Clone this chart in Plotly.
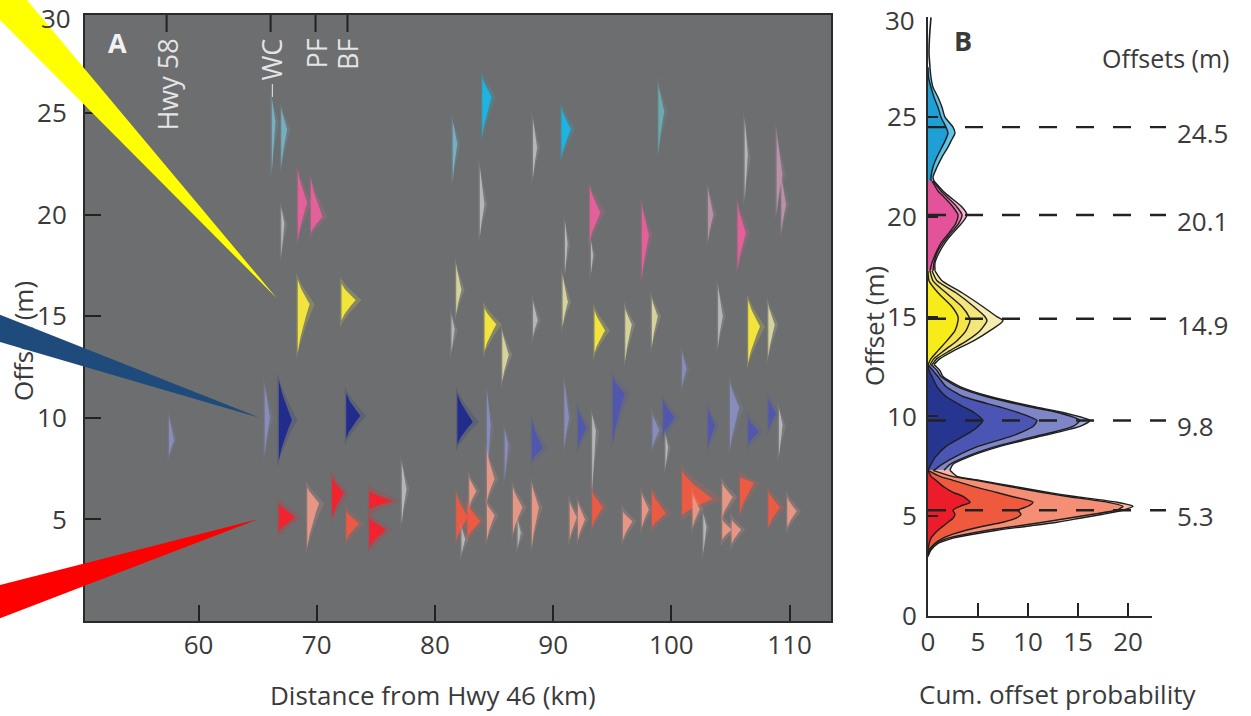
import plotly.graph_objects as go

W, H = 1251, 716
FONT = "Open Sans"
TXT = "#3a3a3a"

# ---------------- Panel A data ----------------
site_names = ["Hwy 58", "WC", "PF", "BF"]
site_km = [57.3, 66.1, 69.9, 72.6]

# individual offset measurements (half-violin pdfs): distance, pdf low / mode / high, relative pdf height
blob_km = [66.2, 67.0, 81.5, 84.0, 90.7, 98.9,
           68.4, 69.5, 67.0, 83.8, 88.3, 93.1, 93.2, 97.5, 91.0, 103.1, 105.6, 108.9, 109.3, 106.2,
           68.4, 72.1, 81.8, 81.4, 84.2, 85.7, 88.3, 90.8, 93.5, 96.1, 98.35, 103.95, 106.5, 108.2,
           57.5, 65.6, 66.8, 72.5, 81.9, 84.4, 85.9, 88.2, 90.95, 92.1, 93.3, 95.05, 98.4, 99.3, 99.5,
           100.9, 103.1, 104.95, 106.5, 108.2, 109.1,
           66.8, 69.2, 71.3, 72.5, 74.45, 74.45, 77.2, 81.8, 82.75, 82.9, 82.25, 84.4, 84.4, 86.6, 87.0,
           88.2, 91.4, 92.1, 93.3, 95.9, 97.5, 98.35, 100.9, 101.8, 102.7, 104.3, 104.3, 105.1, 105.8,
           108.2, 109.8]
blob_lo = [22.0, 22.3, 21.6, 23.8, 22.8, 23.0,
           18.7, 19.1, 17.9, 18.9, 21.8, 18.7, 17.1, 16.8, 17.1, 18.7, 17.3, 20.0, 19.1, 20.7,
           13.2, 14.8, 15.1, 13.2, 13.3, 11.8, 14.0, 14.5, 13.2, 12.8, 13.5, 13.5, 12.7, 13.0,
           8.1, 8.1, 7.9, 9.0, 8.7, 6.9, 6.9, 7.9, 8.5, 8.5, 6.3, 8.7, 8.5, 9.1, 7.5,
           11.5, 8.5, 8.4, 8.7, 9.4, 8.1,
           4.4, 3.6, 5.1, 4.0, 5.5, 3.6, 4.8, 4.0, 4.1, 5.6, 3.3, 5.9, 4.0, 4.3, 3.6,
           3.6, 4.0, 4.0, 4.6, 4.0, 4.6, 4.6, 5.2, 4.6, 3.3, 5.1, 4.0, 3.8, 5.3,
           4.6, 4.6]
blob_peak = [24.5, 24.2, 23.5, 25.8, 24.2, 25.1,
             20.6, 19.9, 19.5, 20.5, 23.3, 20.1, 18.0, 19.0, 18.5, 20.0, 19.1, 22.0, 20.5, 22.8,
             15.6, 15.8, 16.3, 14.3, 14.6, 13.1, 14.8, 15.7, 14.3, 14.6, 15.0, 15.0, 14.5, 14.6,
             8.9, 10.0, 9.9, 10.1, 9.8, 9.5, 8.6, 8.5, 10.0, 9.5, 9.3, 11.2, 9.4, 10.0, 8.5,
             12.4, 9.6, 10.5, 9.3, 10.2, 9.6,
             5.1, 5.8, 6.3, 4.8, 5.9, 4.5, 6.5, 5.1, 4.9, 6.4, 4.0, 7.0, 5.2, 5.6, 4.3,
             5.6, 5.1, 5.0, 5.6, 4.9, 5.5, 5.3, 6.0, 5.5, 4.6, 6.1, 4.5, 4.5, 6.8,
             5.6, 5.4]
blob_hi = [25.8, 25.3, 24.7, 26.8, 25.3, 26.5,
           22.2, 21.8, 20.4, 22.5, 24.8, 21.4, 18.7, 20.6, 19.7, 21.4, 20.6, 24.3, 22.0, 24.8,
           16.8, 16.6, 17.6, 15.1, 15.4, 14.3, 15.8, 17.1, 15.3, 15.4, 15.9, 16.6, 15.8, 15.6,
           10.2, 11.8, 11.9, 11.2, 11.2, 11.5, 9.5, 9.9, 12.0, 10.5, 10.2, 12.0, 10.2, 10.9, 9.2,
           13.3, 10.5, 11.8, 10.0, 11.0, 10.5,
           5.8, 6.6, 7.1, 5.4, 6.4, 5.1, 7.9, 6.3, 5.8, 7.1, 4.6, 8.4, 5.8, 6.6, 5.0,
           6.8, 5.9, 5.9, 6.4, 5.4, 6.3, 6.4, 7.4, 6.3, 5.3, 6.8, 5.0, 5.0, 7.1,
           6.4, 6.1]
blob_height = [0.35, 0.5, 0.4, 0.8, 0.8, 0.5,
               0.8, 1.0, 0.3, 0.4, 0.35, 0.9, 0.2, 0.6, 0.25, 0.45, 0.7, 0.5, 0.4, 0.3,
               1.0, 1.2, 0.45, 0.3, 1.0, 0.55, 0.4, 0.45, 0.9, 0.55, 0.5, 0.4, 1.0, 0.55,
               0.45, 0.45, 1.1, 1.2, 1.3, 0.35, 0.35, 0.9, 0.4, 0.7, 0.35, 1.0, 0.6, 1.0, 0.25,
               0.4, 0.6, 0.8, 0.9, 0.65, 0.35,
               1.4, 1.0, 1.0, 1.1, 2.0, 1.4, 0.4, 1.0, 1.1, 0.6, 0.35, 0.65, 0.65, 0.8, 0.3,
               0.6, 0.6, 0.6, 0.9, 0.8, 0.6, 1.2, 2.6, 0.6, 0.3, 0.9, 0.8, 0.8, 1.2,
               1.0, 0.8]
# quality class of each measurement (group + confidence)
blob_class = ["c2", "c2", "c2", "c1", "c1", "c3",
              "p1", "p1", "w", "w", "w", "p1", "w", "p1", "w", "p2", "p1", "p2", "p2", "w",
              "y1", "y1", "y2", "w", "y1", "y2", "w", "y2", "y1", "y2", "y2", "w", "y1", "y2",
              "b3", "b3", "b1", "b1", "b1", "b3", "b3", "b2", "b3", "b2", "w", "b2", "b3", "b2", "w",
              "b3", "b2", "b3", "b2", "b2", "w",
              "r1", "r3", "r1", "r2", "r1", "r1", "w", "r2", "r2", "r3", "w", "r3", "r3", "r3", "w",
              "r3", "r3", "r3", "r2", "r3", "r3", "r2", "r2", "r3", "w", "r3", "r3", "r3", "r2",
              "r2", "r3"]

pointer_km = [66.6, 65.2, 65.0]
pointer_offset = [15.9, 10.0, 5.0]

# ---------------- Panel B data (cumulative probability, stacked) ----------------
cyan_y = [21.8, 22.0, 22.5, 23.0, 23.5, 23.8, 24.2, 24.5, 25.0, 25.5, 26.0, 26.5, 27.0, 27.5]
cyan_layers = [
    [0.3, 0.3, 0.5, 0.9, 1.4, 1.7, 2.0, 1.8, 1.3, 1.0, 0.6, 0.3, 0.05, 0.0],
    [0.6, 0.5, 0.9, 1.4, 2.0, 2.3, 2.7, 2.5, 1.7, 1.4, 1.0, 0.5, 0.3, 0.2],
]
pink_y = [17.3, 17.7, 18.2, 18.7, 19.2, 19.7, 20.1, 20.5, 21.0, 21.3, 21.8]
pink_layers = [
    [0.2, 0.4, 0.8, 1.3, 2.1, 2.8, 3.0, 2.5, 1.6, 1.0, 0.4],
    [0.5, 0.6, 0.9, 1.5, 2.3, 3.1, 3.4, 2.9, 1.9, 1.3, 0.5],
    [0.7, 0.7, 1.1, 1.7, 2.5, 3.4, 3.9, 3.4, 2.2, 1.5, 0.6],
]
yellow_y = [12.6, 12.9, 13.3, 13.8, 14.3, 14.8, 15.0, 15.5, 16.2, 16.8, 17.3]
yellow_layers = [
    [0.0, 0.3, 1.0, 1.9, 2.7, 3.0, 3.0, 2.4, 1.0, 0.1, 0.0],
    [0.2, 0.6, 1.6, 2.9, 3.8, 4.2, 4.1, 3.4, 1.8, 0.5, 0.2],
    [0.4, 0.9, 2.2, 3.9, 5.2, 5.9, 5.7, 4.6, 2.8, 0.9, 0.4],
    [0.6, 1.2, 2.6, 4.6, 6.2, 7.5, 6.9, 5.5, 3.4, 1.4, 0.7],
]
blue_y = [7.3, 7.6, 8.0, 8.5, 9.0, 9.2, 9.5, 9.8, 10.2, 10.5, 11.0, 11.5, 12.0, 12.3, 12.6]
blue_layers = [
    [0.0, 0.3, 0.8, 1.8, 3.5, 4.2, 5.0, 5.5, 4.6, 3.5, 1.8, 0.9, 0.4, 0.1, 0.0],
    [0.6, 1.4, 2.8, 5.0, 8.3, 9.3, 10.5, 10.9, 9.0, 7.0, 3.5, 1.8, 1.0, 0.5, 0.0],
    [1.6, 2.2, 3.9, 6.8, 10.7, 12.4, 14.5, 15.2, 13.0, 10.0, 5.8, 2.9, 1.3, 0.9, 0.3],
    [2.2, 2.5, 4.2, 7.2, 11.2, 12.9, 15.2, 16.2, 13.5, 10.5, 6.2, 3.2, 1.5, 1.2, 0.6],
]
red_y = [3.0, 3.3, 3.6, 3.9, 4.1, 4.3, 4.5, 4.7, 4.9, 5.1, 5.3, 5.5, 5.7, 6.0, 6.2, 6.5, 6.8, 7.0, 7.3]
red_layers = [
    [0, 0, 0.1, 0.3, 0.6, 1.0, 1.5, 2.0, 2.5, 2.7, 2.5, 3.2, 4.2, 3.5, 2.5, 1.5, 0.8, 0.3, 0.0],
    [0, 0.1, 0.6, 1.5, 2.5, 3.8, 5.5, 7.5, 8.8, 9.3, 9.0, 10.0, 10.5, 8.3, 6.8, 4.5, 2.5, 1.2, 0.0],
    [0, 0.2, 0.7, 2.0, 3.8, 6.0, 8.8, 11.5, 14.0, 16.5, 18.8, 19.5, 18.0, 13.8, 11.3, 8.0, 4.8, 2.4, 0.5],
    [0, 0.3, 0.9, 2.5, 4.5, 6.9, 9.9, 12.9, 15.2, 17.5, 19.5, 20.5, 18.9, 14.5, 11.9, 8.5, 5.2, 2.9, 2.2],
]
tail_y = [27.5, 27.8, 28.2, 29.0, 30.0]
tail_x = [0.2, 0.15, 0.1, 0.15, 0.3]

offset_peaks = [24.5, 20.1, 14.9, 9.8, 5.3]
offset_labels = ["24.5", "20.1", "14.9", "9.8", "5.3"]

# ---------------- styles ----------------
class_color = {
    "c1": (30, 180, 225), "c2": (120, 185, 205), "c3": (105, 180, 185),
    "p1": (228, 96, 154), "p2": (196, 150, 176),
    "y1": (242, 228, 60), "y2": (222, 218, 160),
    "b1": (34, 44, 140), "b2": (80, 86, 176), "b3": (140, 144, 198),
    "r1": (242, 34, 46), "r2": (236, 90, 68), "r3": (234, 152, 134),
    "w": (208, 208, 208),
}
class_alpha = {"c1": 1, "c2": 0.85, "c3": 0.85, "p1": 1, "p2": 0.85, "y1": 1, "y2": 0.9,
               "b1": 1, "b2": 0.95, "b3": 0.85, "r1": 1, "r2": 1, "r3": 0.95, "w": 0.7}
group_colors = {
    "cyan": ["#1e9fd6", "#62c2e8"],
    "pink": ["#e4529a", "#ec7db0", "#f3b5d0"],
    "yellow": ["#f7ec1a", "#f4e548", "#f3e67c", "#f4ecb0"],
    "blue": ["#26358f", "#4b55b3", "#7f86c8", "#a9addc"],
    "red": ["#ec1c2a", "#ef5a3e", "#f48e74", "#f7b7a4"],
}
pointer_color = ["#ffff00", "#1f4a7c", "#ff0000"]

# layout geometry (pixels)
A_L, A_R, A_T, A_B = 85, 831, 15, 621
A_XR = [50.4, 113.5]
A_YR = [0, 29.83]
B_L, B_R, B_T, B_B = 928, 1152, 17, 616
B_XR = [0, 22.4]
B_YR = [0, 30.02]


def pxx(px):
    return px / W


def pyy(py):
    return 1 - py / H


def a_px(x):
    return A_L + (x - A_XR[0]) / (A_XR[1] - A_XR[0]) * (A_R - A_L)


def a_py(y):
    return A_B - (y - A_YR[0]) / (A_YR[1] - A_YR[0]) * (A_B - A_T)


fig = go.Figure()

# --- panel A blobs ---
def blob_outline(x0, lo, pk, hi, h, n=12, p=1.3):
    xs, ys = [x0], [lo]
    for i in range(n + 1):
        t = i / n
        xs.append(x0 + h * t ** p)
        ys.append(lo + (pk - lo) * t)
    for i in range(1, n + 1):
        t = 1 - i / n
        xs.append(x0 + h * t ** p)
        ys.append(pk + (hi - pk) * (i / n))
    xs += [x0, x0]
    ys += [hi, lo]
    return xs, ys


for x0, lo, pk, hi, h, c in zip(blob_km, blob_lo, blob_peak, blob_hi, blob_height, blob_class):
    r, g, b = class_color[c]
    a = class_alpha[c]
    gx, gy = blob_outline(x0 - 0.12, lo - 0.35, pk, hi + 0.35, h * 1.3 + 0.25)
    fig.add_trace(go.Scatter(x=gx, y=gy, fill="toself", mode="lines", line=dict(width=0),
                             fillcolor=f"rgba({r},{g},{b},{0.2 * a})", hoverinfo="skip",
                             showlegend=False, xaxis="x", yaxis="y"))
    bx, by = blob_outline(x0, lo, pk, hi, h)
    fig.add_trace(go.Scatter(x=bx, y=by, fill="toself", mode="lines", line=dict(width=0),
                             fillcolor=f"rgba({r},{g},{b},{a})", hoverinfo="skip",
                             showlegend=False, xaxis="x", yaxis="y"))

# --- panel B stacked distributions ---
groups = [("cyan", cyan_y, cyan_layers), ("pink", pink_y, pink_layers),
          ("yellow", yellow_y, yellow_layers), ("blue", blue_y, blue_layers),
          ("red", red_y, red_layers)]
for name, ys, layers in groups:
    cols = group_colors[name]
    for k in range(len(layers) - 1, -1, -1):
        xs = layers[k]
        fig.add_trace(go.Scatter(x=[0] + xs + [0], y=[ys[0]] + ys + [ys[-1]], fill="toself",
                                 mode="lines", line=dict(width=0, shape="spline", smoothing=0.6),
                                 fillcolor=cols[k], hoverinfo="skip", showlegend=False,
                                 xaxis="x2", yaxis="y2"))
for name, ys, layers in groups:
    for xs in layers:
        fig.add_trace(go.Scatter(x=xs, y=ys, mode="lines",
                                 line=dict(color="#1e1e1e", width=1.4, shape="spline", smoothing=0.6),
                                 hoverinfo="skip", showlegend=False, xaxis="x2", yaxis="y2"))
fig.add_trace(go.Scatter(x=tail_x, y=tail_y, mode="lines",
                         line=dict(color="#1e1e1e", width=1.6, shape="spline"),
                         hoverinfo="skip", showlegend=False, xaxis="x2", yaxis="y2"))

shapes = []
annotations = []

# gray background of panel A
shapes.append(dict(type="rect", xref="x domain", yref="y domain", x0=0, x1=1, y0=0, y1=1,
                   fillcolor="#6c6e70", line=dict(width=0), layer="below"))
# site ticks at top of panel A
for name, km in zip(site_names, site_km):
    shapes.append(dict(type="line", xref="x", yref="paper", x0=km, x1=km,
                       y0=pyy(A_T), y1=pyy(A_T + 17), line=dict(color="#222222", width=2)))
    annotations.append(dict(text=name, xref="x", yref="paper", x=km, y=pyy(A_T + 22),
                            xanchor="center", yanchor="top", textangle=-90, showarrow=False,
                            font=dict(family=FONT, size=27, color="#e4e4e4")))
shapes.append(dict(type="line", xref="x", yref="paper", x0=site_km[1] + 0.15, x1=site_km[1] + 0.15,
                   y0=pyy(84), y1=pyy(97), line=dict(color="#cfd8dc", width=1.2)))

# y-title of panel A as a shape label (so that the pointers may lie over it)
shapes.append(dict(type="rect", xref="paper", yref="paper", x0=pxx(8), x1=pxx(42),
                   y0=pyy(404), y1=pyy(278), line=dict(width=0), fillcolor="rgba(0,0,0,0)",
                   label=dict(text="Offset (m)", textangle=-90, textposition="middle center",
                              font=dict(family=FONT, size=26, color=TXT))))

# pointers
pointer_bases = [[(25.3, -2), (-2, -2), (-2, 18)], [(-2, 314), (-2, 341.5)], [(-2, 585.5), (-2, 619)]]
for km, off, col, base in zip(pointer_km, pointer_offset, pointer_color, pointer_bases):
    tx, ty = a_px(km), a_py(off)
    pts = [(tx, ty)] + base
    path = "M " + " L ".join(f"{pxx(px):.5f},{pyy(py):.5f}" for px, py in pts) + " Z"
    shapes.append(dict(type="path", xref="paper", yref="paper", path=path,
                       fillcolor=col, line=dict(width=0), layer="above"))

# dashed offset lines in panel B
for v in offset_peaks:
    shapes.append(dict(type="line", xref="paper", yref="y2", x0=pxx(B_L), x1=pxx(1166), y0=v, y1=v,
                       line=dict(color="#222222", width=2.4, dash="18px,19px")))
for v, lab in zip(offset_peaks, offset_labels):
    annotations.append(dict(text=lab, xref="paper", yref="y2", x=pxx(1175), y=v, xanchor="left",
                            yanchor="middle", yshift=-6, showarrow=False,
                            font=dict(family=FONT, size=26, color=TXT)))

annotations += [
    dict(text="<b>A</b>", xref="paper", yref="paper", x=pxx(117), y=pyy(43), showarrow=False,
         xanchor="center", yanchor="middle", font=dict(family=FONT, size=27, color="#f2f2f2")),
    dict(text="<b>B</b>", xref="paper", yref="paper", x=pxx(963), y=pyy(41), showarrow=False,
         xanchor="center", yanchor="middle", font=dict(family=FONT, size=27, color=TXT)),
    dict(text="Offsets (m)", xref="paper", yref="paper", x=pxx(1165), y=pyy(58), showarrow=False,
         xanchor="center", yanchor="middle", font=dict(family=FONT, size=25, color=TXT)),
    dict(text="30", xref="paper", yref="paper", x=pxx(73), y=pyy(18), showarrow=False,
         xanchor="right", yanchor="middle", font=dict(family=FONT, size=26, color=TXT)),
    dict(text="30", xref="paper", yref="paper", x=pxx(917), y=pyy(20), showarrow=False,
         xanchor="right", yanchor="middle", font=dict(family=FONT, size=26, color=TXT)),
    dict(text="Distance from Hwy 46 (km)", xref="paper", yref="paper", x=pxx(433), y=pyy(695),
         showarrow=False, xanchor="center", yanchor="middle", font=dict(family=FONT, size=26, color=TXT)),
    dict(text="Cum. offset probability", xref="paper", yref="paper", x=pxx(1058), y=pyy(694),
         showarrow=False, xanchor="center", yanchor="middle", font=dict(family=FONT, size=26, color=TXT)),
    dict(text="Offset (m)", xref="paper", yref="paper", x=pxx(874), y=pyy(326), showarrow=False,
         textangle=-90, xanchor="center", yanchor="middle", font=dict(family=FONT, size=26, color=TXT)),
]

tickfont = dict(family=FONT, size=26, color=TXT)
common = dict(showgrid=False, zeroline=False, automargin=False, fixedrange=True, tickfont=tickfont,
              ticks="inside", tickwidth=2, tickcolor="#222222", showline=True,
              linecolor="#2a2a2a", linewidth=2)
fig.update_layout(
    width=W, height=H, margin=dict(l=0, r=0, t=0, b=0, pad=0, autoexpand=False),
    autosize=False,
    paper_bgcolor="white", plot_bgcolor="rgba(0,0,0,0)",
    showlegend=False, shapes=shapes, annotations=annotations,
    xaxis=dict(domain=[pxx(A_L), pxx(A_R)], range=A_XR, tickvals=[60, 70, 80, 90, 100, 110],
               ticklen=16, mirror=True, ticklabelstandoff=0, anchor="y", **common),
    yaxis=dict(domain=[pyy(A_B), pyy(A_T)], range=A_YR, tickvals=[5, 10, 15, 20, 25],
               ticklen=16, mirror=True, ticklabelstandoff=11, anchor="x", **common),
    xaxis2=dict(domain=[pxx(B_L), pxx(B_R)], range=B_XR, tickvals=[0, 5, 10, 15, 20],
                ticklen=13, ticklabelstandoff=2, anchor="y2", **common),
    yaxis2=dict(domain=[pyy(B_B), pyy(B_T)], range=B_YR, tickvals=[0, 5, 10, 15, 20, 25],
                ticklen=10, ticklabelstandoff=4, anchor="x2", **common),
)

fig.write_html("out.html")
